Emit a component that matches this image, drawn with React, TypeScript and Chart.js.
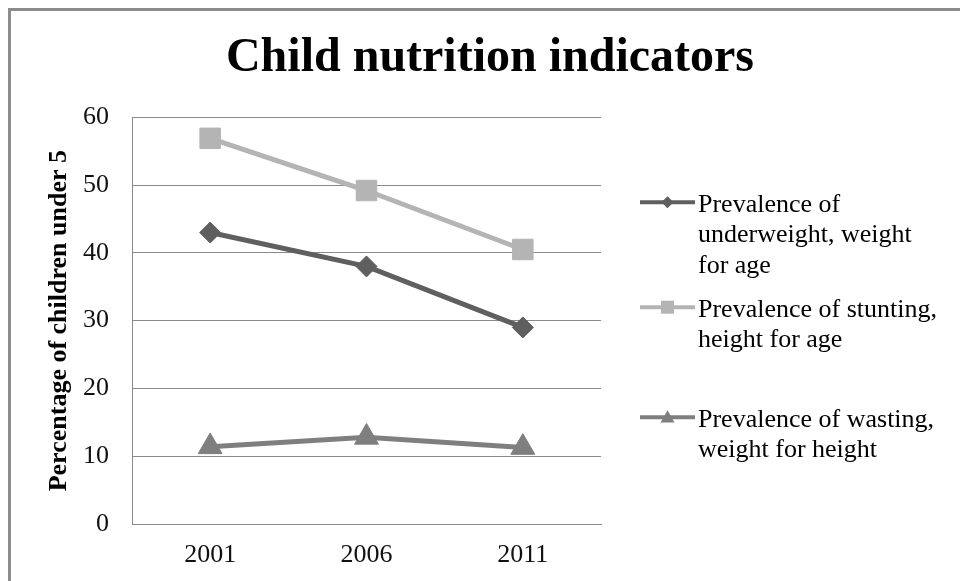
import React, { useEffect, useRef } from 'react';
import { Chart, registerables } from 'chart.js';

Chart.register(...registerables);

// ---- data ----
const years = ['2001', '2006', '2011'];
const underweight = [43.0, 38.0, 29.0];
const stunting = [56.9, 49.2, 40.5];
const wasting = [11.4, 12.8, 11.3];

const seriesNames = [
  'Prevalence of underweight, weight for age',
  'Prevalence of stunting, height for age',
  'Prevalence of wasting, weight for height',
];
const legendLines = [
  ['Prevalence of', 'underweight, weight', 'for age'],
  ['Prevalence of stunting,', 'height for age'],
  ['Prevalence of wasting,', 'weight for height'],
];
const titleText = 'Child nutrition indicators';
const yAxisTitle = 'Percentage of children under 5';
const yMin = 0;
const yMax = 60;
const yStep = 10;

const SERIF = '"Liberation Serif", "Times New Roman", Times, serif';
const COLORS = ['#5f5f5f', '#b4b4b4', '#7f7f7f'];
const STYLES = ['rectRot', 'rect', 'triangle'];
const RADII = [10.5, 14.5, 13.8];

function drawMarker(ctx: CanvasRenderingContext2D, style: string, x: number, y: number, s: number) {
  ctx.beginPath();
  if (style === 'rectRot') {
    ctx.moveTo(x - s, y);
    ctx.lineTo(x, y - s);
    ctx.lineTo(x + s, y);
    ctx.lineTo(x, y + s);
  } else if (style === 'rect') {
    ctx.rect(x - s, y - s, 2 * s, 2 * s);
  } else {
    ctx.moveTo(x, y - s);
    ctx.lineTo(x + s, y + s * 0.75);
    ctx.lineTo(x - s, y + s * 0.75);
  }
  ctx.closePath();
  ctx.fill();
}

const legendPlugin = {
  id: 'customLegend',
  afterDraw(chart: any) {
    const ctx = chart.ctx as CanvasRenderingContext2D;
    const baselines = [211.7, 316.7, 426.7];
    const lineGap = 30.7;
    const sizes = [6, 6.5, 7];
    ctx.save();
    chart.data.datasets.forEach((ds: any, i: number) => {
      const b = baselines[i];
      const ly = b - 9.5;
      ctx.strokeStyle = ds.borderColor;
      ctx.fillStyle = ds.borderColor;
      ctx.lineWidth = 4;
      ctx.beginPath();
      ctx.moveTo(640, ly);
      ctx.lineTo(695, ly);
      ctx.stroke();
      drawMarker(ctx, STYLES[i], 667.5, ly, sizes[i]);
      ctx.fillStyle = '#000';
      ctx.font = `26px ${SERIF}`;
      ctx.textAlign = 'left';
      ctx.textBaseline = 'alphabetic';
      legendLines[i].forEach((t, j) => ctx.fillText(t, 698, b + j * lineGap));
    });
    ctx.restore();
  },
};

export default function App() {
  const ref = useRef<HTMLCanvasElement>(null);
  useEffect(() => {
    if (!ref.current) return;
    const series = [underweight, stunting, wasting];
    const chart = new Chart(ref.current, {
      type: 'line',
      data: {
        labels: years,
        datasets: series.map((d, i) => ({
          label: seriesNames[i],
          data: d,
          borderColor: COLORS[i],
          backgroundColor: COLORS[i],
          pointBackgroundColor: COLORS[i],
          pointBorderColor: COLORS[i],
          pointBorderWidth: 1,
          pointStyle: STYLES[i] as any,
          pointRadius: RADII[i],
          borderWidth: 5,
          tension: 0,
          yAxisID: 'y',
        })),
      },
      options: {
        responsive: false,
        animation: false,
        devicePixelRatio: 1,
        layout: { padding: { left: 20, right: 0, top: 0, bottom: 0 } },
        plugins: {
          legend: { display: false },
          tooltip: { enabled: false },
          title: {
            display: true,
            text: titleText,
            color: '#000',
            font: { family: SERIF, size: 48, weight: 'bold' },
            padding: { top: 30, bottom: 29.7 },
          },
        },
        scales: {
          x: {
            offset: true,
            grid: { display: false, drawTicks: false },
            border: { display: true, color: '#8a8a8a', width: 1 },
            ticks: { color: '#111', font: { family: SERIF, size: 26 }, padding: 16 },
            afterFit: (s: any) => { s.height = 57; },
          },
          y: {
            position: 'left',
            min: yMin,
            max: yMax,
            ticks: { stepSize: yStep, color: '#111', font: { family: SERIF, size: 26 }, padding: 23 },
            grid: { color: '#8a8a8a', lineWidth: 1, drawTicks: false },
            border: { display: true, color: '#8a8a8a', width: 1 },
            title: {
              display: true,
              text: yAxisTitle,
              color: '#000',
              font: { family: SERIF, size: 26, weight: 'bold' },
              padding: { top: 23.4, bottom: 0 },
            },
            afterFit: (s: any) => { s.width = 112; },
          },
          spacer: {
            type: 'linear',
            position: 'right',
            display: true,
            min: 0,
            max: 1,
            ticks: { display: false },
            grid: { display: false, drawOnChartArea: false, drawTicks: false },
            border: { display: false },
            afterFit: (s: any) => { s.width = 359; },
          },
        },
      },
      plugins: [legendPlugin],
    });
    return () => chart.destroy();
  }, []);

  return (
    <div style={{ position: 'fixed', left: 0, top: 0, width: 960, height: 581, overflow: 'hidden', background: '#fff' }}>
      <div
        style={{
          position: 'absolute',
          left: 8,
          top: 8,
          width: 1000,
          height: 1000,
          borderLeft: '3px solid #8c8c8c',
          borderTop: '3px solid #8c8c8c',
        }}
      />
      <canvas ref={ref} width={960} height={581} style={{ position: 'absolute', left: 0, top: 0, width: 960, height: 581 }} />
    </div>
  );
}
